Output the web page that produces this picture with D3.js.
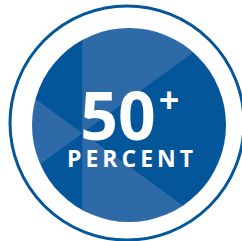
<!DOCTYPE html>
<html>
<head>
<meta charset="utf-8">
<script src="https://cdn.jsdelivr.net/npm/d3@7"></script>
<style>
  html, body { margin: 0; padding: 0; background: #fff; }
  svg { display: block; }
</style>
</head>
<body>
<div id="chart"></div>
<script>
// facet wedges (degrees, clockwise from 12 o'clock) and their shade
const facetSizes = [54, 72, 54, 54, 72, 54];
const facetShades = ["light", "dark", "light", "dark", "light", "dark"];

// label texts
const bigValue = "50";
const valueSuffix = "+";
const unitLabel = "PERCENT";

const width = 242;
const height = 241;

// colours
const colors = { dark: "#04569a", light: "#2e6aa8" };

const svg = d3
  .select("#chart")
  .append("svg")
  .attr("width", width)
  .attr("height", height);

// outer thin ring
svg
  .append("circle")
  .attr("cx", 127)
  .attr("cy", 123)
  .attr("r", 117)
  .attr("fill", "none")
  .attr("stroke", colors.dark)
  .attr("stroke-width", 3);

// inner disc used as clip for the facets
const disc = { cx: 129, cy: 125, r: 97 };
svg
  .append("clipPath")
  .attr("id", "discClip")
  .append("circle")
  .attr("cx", disc.cx)
  .attr("cy", disc.cy)
  .attr("r", disc.r);

// facets fan out from a point left of centre
const pie = d3
  .pie()
  .sort(null)
  .value(d => d)
  .startAngle(0)
  .endAngle(2 * Math.PI);

const arc = d3.arc().innerRadius(0).outerRadius(200);

const facets = svg
  .append("g")
  .attr("clip-path", "url(#discClip)")
  .append("g")
  .attr("transform", "translate(82, 133)");

facets
  .selectAll("path")
  .data(pie(facetSizes))
  .enter()
  .append("path")
  .attr("d", arc)
  .attr("fill", (d, i) => colors[facetShades[i]])
  .attr("stroke", (d, i) => colors[facetShades[i]])
  .attr("stroke-width", 0.5);

// labels
const label = svg
  .append("text")
  .attr("x", 118)
  .attr("y", 140)
  .attr("text-anchor", "middle")
  .attr("fill", "#fff")
  .attr("font-family", "'Open Sans', sans-serif")
  .attr("font-weight", 700)
  .attr("font-size", 66)
  .text(bigValue);

svg
  .append("text")
  .attr("x", 169)
  .attr("y", 113)
  .attr("text-anchor", "middle")
  .attr("fill", "#fff")
  .attr("font-family", "'Open Sans', sans-serif")
  .attr("font-weight", 700)
  .attr("font-size", 36)
  .text(valueSuffix);

svg
  .append("text")
  .attr("x", 132)
  .attr("y", 167)
  .attr("text-anchor", "middle")
  .attr("fill", "#fff")
  .attr("font-family", "'Open Sans', sans-serif")
  .attr("font-weight", 700)
  .attr("font-size", 23)
  .attr("letter-spacing", 4)
  .text(unitLabel);
</script>
</body>
</html>
